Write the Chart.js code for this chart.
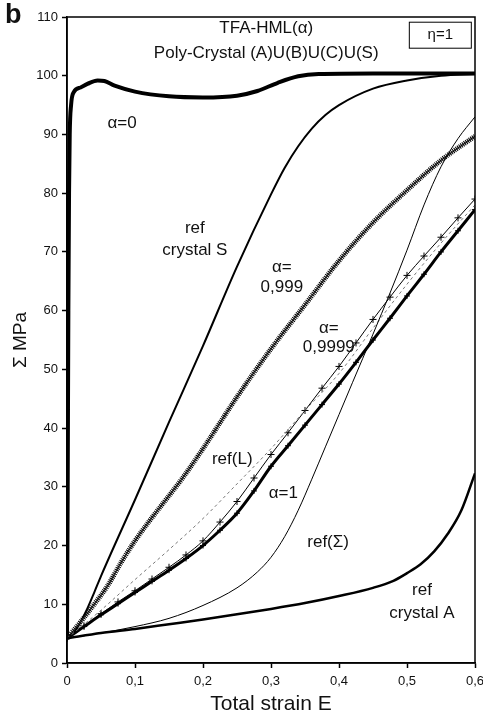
<!DOCTYPE html>
<html>
<head>
<meta charset="utf-8">
<script src="https://cdn.jsdelivr.net/npm/chart.js@4"></script>
<style>
  body { margin: 0; background: #fff; }
  #wrap { width: 483px; height: 720px; position: relative; }
</style>
</head>
<body>
<div id="wrap"><canvas id="strainChart"></canvas></div>
<script>
// values (strain E, stress MPa)
const strainAlpha0 = [0, 0.001, 0.002, 0.003, 0.004, 0.006, 0.01, 0.02, 0.03, 0.045, 0.055, 0.07, 0.1, 0.15, 0.2, 0.25, 0.28, 0.31, 0.34, 0.37, 0.45, 0.6];
const stressAlpha0 = [4.2, 30, 60, 80, 90, 95, 97.2, 98, 98.6, 99.2, 99.1, 98.3, 97.3, 96.5, 96.3, 96.6, 97.4, 98.8, 99.9, 100.3, 100.4, 100.4];

const strainRefS = [0, 0.01, 0.02, 0.03, 0.04, 0.05, 0.1, 0.15, 0.2, 0.25, 0.3, 0.32, 0.34, 0.36, 0.38, 0.4, 0.45, 0.5, 0.55, 0.6];
const stressRefS = [4.2, 5.2, 7, 9.3, 12, 14.8, 27.8, 41, 54, 67.5, 79.8, 84.3, 88, 91, 93.3, 95, 97.8, 99.2, 100, 100.3];

const strainAlpha999 = [0, 0.02, 0.04, 0.06, 0.08, 0.1, 0.12, 0.14, 0.17, 0.2, 0.25, 0.3, 0.35, 0.4, 0.45, 0.5, 0.55, 0.6];
const stressAlpha999 = [4.2, 7, 10, 13.2, 17.2, 20.8, 24, 27, 31.5, 36.5, 45.3, 53.5, 61, 68.5, 75, 80.5, 85.6, 89.7];

const strainAlpha9999 = [0, 0.025, 0.05, 0.075, 0.1, 0.125, 0.15, 0.175, 0.2, 0.225, 0.25, 0.275, 0.3, 0.325, 0.35, 0.375, 0.4, 0.425, 0.45, 0.475, 0.5, 0.525, 0.55, 0.575, 0.6];
const stressAlpha9999 = [4.2, 6.3, 8.4, 10.4, 12.3, 14.3, 16.3, 18.4, 20.8, 24, 27.5, 31.5, 35.5, 39.2, 43, 46.8, 50.5, 54.5, 58.5, 62.3, 66, 69.3, 72.5, 75.8, 79];

const strainAlpha1 = [0, 0.025, 0.05, 0.075, 0.1, 0.125, 0.15, 0.175, 0.2, 0.225, 0.25, 0.275, 0.3, 0.325, 0.35, 0.375, 0.4, 0.425, 0.45, 0.475, 0.5, 0.525, 0.55, 0.575, 0.6];
const stressAlpha1 = [4.2, 6.2, 8.2, 10.1, 12, 13.9, 15.8, 17.8, 20, 22.6, 25.5, 29.3, 33.5, 37, 40.5, 44, 47.5, 51.2, 55, 58.7, 62.5, 66.2, 70, 73.6, 77.2];

const strainRefL = [0, 0.05, 0.1, 0.15, 0.2, 0.25, 0.3, 0.35, 0.4, 0.45, 0.5, 0.55, 0.6];
const stressRefL = [4.2, 9, 14.2, 19.3, 24.6, 30.5, 36.5, 43, 49.3, 57, 64.5, 71.5, 78];

const strainRefSigma = [0, 0.05, 0.1, 0.15, 0.2, 0.25, 0.28, 0.3, 0.32, 0.34, 0.36, 0.38, 0.4, 0.42, 0.45, 0.475, 0.5, 0.525, 0.55, 0.575, 0.6];
const stressRefSigma = [4.2, 5.1, 6.2, 7.6, 9.8, 12.8, 15.5, 18, 21.5, 26, 31.3, 36.8, 42.3, 47.8, 56, 63, 70.3, 78, 84.5, 89.3, 93];

const strainRefA = [0, 0.05, 0.1, 0.15, 0.2, 0.25, 0.3, 0.35, 0.4, 0.45, 0.48, 0.5, 0.52, 0.54, 0.56, 0.58, 0.6];
const stressRefA = [4.2, 5.1, 5.8, 6.6, 7.4, 8.3, 9.2, 10.2, 11.4, 12.8, 14, 15.3, 16.8, 19, 22, 26, 32.3];

const xTicks = [0, 0.1, 0.2, 0.3, 0.4, 0.5, 0.6];

// curve labels in data coordinates
const curveLabels = [
    { text: "α=0", x: 0.081, y: 91.9 },
    { text: "ref", x: 0.188, y: 74.1 },
    { text: "crystal S", x: 0.188, y: 70.3 },
    { text: "α=", x: 0.316, y: 67.3 },
    { text: "0,999", x: 0.316, y: 64.0 },
    { text: "α=", x: 0.385, y: 57.0 },
    { text: "0,9999", x: 0.385, y: 53.8 },
    { text: "ref(L)", x: 0.243, y: 34.6 },
    { text: "α=1", x: 0.318, y: 28.9 },
    { text: "ref(Σ)", x: 0.384, y: 20.6 },
    { text: "ref", x: 0.522, y: 12.3 },
    { text: "crystal A", x: 0.522, y: 8.5 },
    { text: "TFA-HML(α)", x: 0.293, y: 108.0 },
    { text: "Poly-Crystal (A)U(B)U(C)U(S)", x: 0.293, y: 103.9 }
];

const zip = (xs, ys) => xs.map((x, i) => ({ x: x, y: ys[i] }));

const line = (xs, ys, width, extra) => Object.assign({
    data: zip(xs, ys),
    showLine: true,
    borderColor: '#000',
    backgroundColor: '#000',
    borderWidth: width,
    pointRadius: 0,
    cubicInterpolationMode: 'monotone',
    fill: false
}, extra || {});

const labelPlugin = {
    id: 'labels',
    afterDatasetsDraw(chart) {
        const ctx = chart.ctx;
        const xs = chart.scales.x, ys = chart.scales.y;
        const area = chart.chartArea;
        ctx.save();
        // frame around the plot
        ctx.strokeStyle = '#000';
        ctx.lineWidth = 1.5;
        ctx.strokeRect(area.left, area.top, area.right - area.left, area.bottom - area.top);

        ctx.fillStyle = '#111';
        ctx.font = '17px "Liberation Sans", Arial, sans-serif';
        ctx.textAlign = 'center';
        ctx.textBaseline = 'middle';
        curveLabels.forEach(l => {
            ctx.fillText(l.text, xs.getPixelForValue(l.x), ys.getPixelForValue(l.y));
        });

        // eta box
        const bx = xs.getPixelForValue(0.549), by = ys.getPixelForValue(106.9);
        ctx.lineWidth = 1;
        ctx.strokeRect(bx - 31, by - 13, 62, 26);
        ctx.font = '15px "Liberation Sans", Arial, sans-serif';
        ctx.fillText("η=1", bx, by);

        // panel letter
        ctx.font = 'bold 27px "Liberation Sans", Arial, sans-serif';
        ctx.textAlign = 'left';
        ctx.fillText("b", 5, 16);
        ctx.restore();
    }
};

const tickFont = { family: '"Liberation Sans", Arial, sans-serif', size: 13 };

new Chart(document.getElementById('strainChart'), {
    type: 'scatter',
    data: {
        datasets: [
            line(strainRefA, stressRefA, 2.5),
            line(strainRefSigma, stressRefSigma, 1),
            line(strainRefL, stressRefL, 1, { borderColor: '#777', borderDash: [3, 3] }),
            line(strainAlpha1, stressAlpha1, 3, { pointStyle: 'cross', pointRadius: 3, pointBorderWidth: 1 }),
            line(strainAlpha9999, stressAlpha9999, 1, { pointStyle: 'cross', pointRadius: 3.5, pointBorderWidth: 1 }),
            line(strainAlpha999, stressAlpha999, 5, { borderColor: '#000', borderDash: [1, 1] }),
            line(strainAlpha999, stressAlpha999, 1.5, { borderColor: '#444' }),
            line(strainRefS, stressRefS, 2),
            line(strainAlpha0, stressAlpha0, 4)
        ]
    },
    options: {
        responsive: true,
        maintainAspectRatio: false,
        animation: false,
        layout: { padding: { left: 0, right: 8, top: 17, bottom: 0 } },
        plugins: {
            legend: { display: false },
            tooltip: { enabled: false }
        },
        scales: {
            x: {
                type: 'linear',
                min: 0,
                max: 0.6,
                afterFit: (scale) => { scale.height = 57; scale.paddingLeft = 0; scale.paddingRight = 0; },
                afterBuildTicks: (scale) => { scale.ticks = xTicks.map(v => ({ value: v })); },
                grid: { drawOnChartArea: false, tickLength: 5, color: '#000', tickWidth: 1.5 },
                border: { display: true, color: '#000', width: 1.5 },
                ticks: {
                    color: '#111',
                    font: tickFont,
                    padding: 6,
                    maxRotation: 0,
                    callback: (v) => v === 0 ? '0' : v.toFixed(1).replace('.', ',')
                },
                title: {
                    display: true,
                    text: 'Total strain E',
                    color: '#111',
                    font: { family: '"Liberation Sans", Arial, sans-serif', size: 21 },
                    padding: { top: 0, bottom: 3 }
                }
            },
            y: {
                type: 'linear',
                min: 0,
                max: 110,
                afterFit: (scale) => { scale.width = 67; },
                grid: { drawOnChartArea: false, tickLength: 5, color: '#000', tickWidth: 1.5 },
                border: { display: true, color: '#000', width: 1.5 },
                ticks: { stepSize: 10, color: '#111', font: tickFont, padding: 4 },
                title: {
                    display: true,
                    text: 'Σ MPa',
                    color: '#111',
                    font: { family: '"Liberation Sans", Arial, sans-serif', size: 19 },
                    padding: { top: 9, bottom: 0 }
                }
            }
        }
    },
    plugins: [labelPlugin]
});
</script>
</body>
</html>
